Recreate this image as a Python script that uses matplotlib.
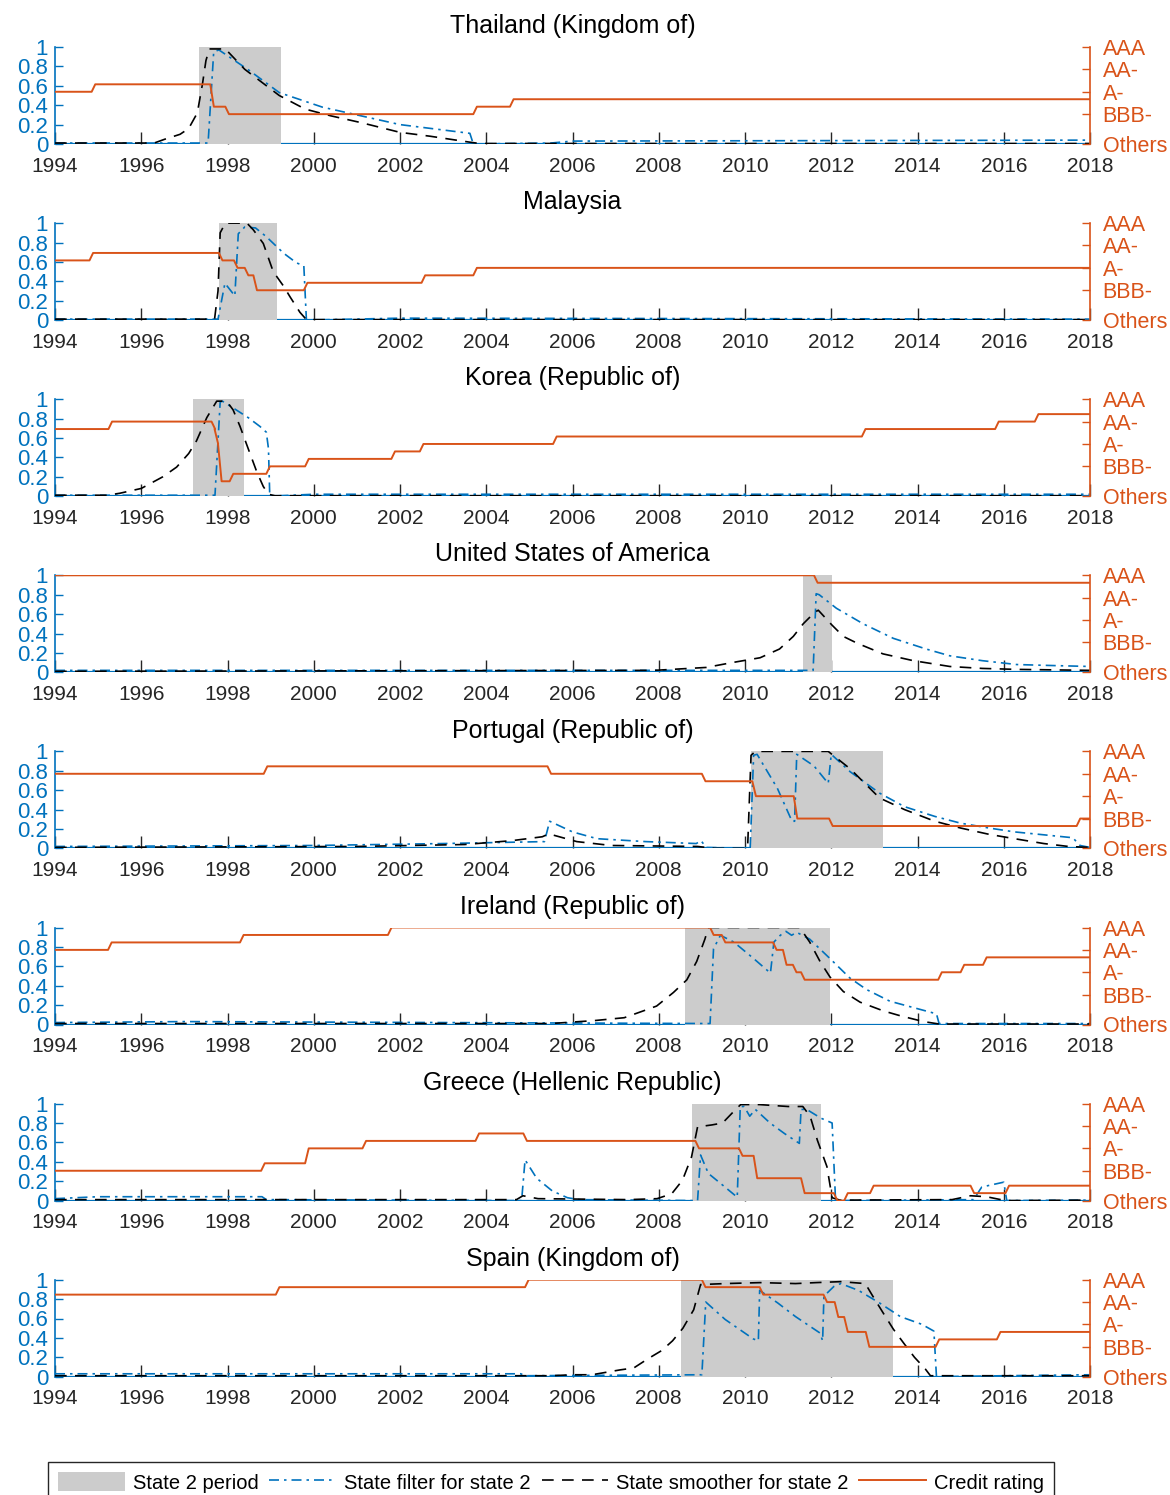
import matplotlib
matplotlib.use("Agg")
import matplotlib.pyplot as plt
from matplotlib.patches import Patch
from matplotlib.lines import Line2D

plt.rcParams["font.family"] = ["Liberation Sans", "DejaVu Sans"]

BLUE = "#0072BD"
ORANGE = "#D95319"
GRAY = "#CCCCCC"
TEXT = "#262626"

TITLES = [
    "Thailand (Kingdom of)",
    "Malaysia",
    "Korea (Republic of)",
    "United States of America",
    "Portugal (Republic of)",
    "Ireland (Republic of)",
    "Greece (Hellenic Republic)",
    "Spain (Kingdom of)",
]

YEARS = list(range(1994, 2019, 2))

# right axis: rating in notches, 13 = AAA ... 4 = BBB-, 0 = Others
RATING_TICKS = [0, 4, 7, 10, 13]
RATING_LABELS = ["Others", "BBB-", "A-", "AA-", "AAA"]

# state 2 periods (start, end)
SHADE = [
    (1997.35, 1999.25),
    (1997.80, 1999.15),
    (1997.19, 1998.38),
    (2011.35, 2012.02),
    (2010.14, 2013.19),
    (2008.61, 2011.96),
    (2008.76, 2011.76),
    (2008.52, 2013.44),
]

# rating changes (date, notch)
RATING_THA = [(1994.0, 7), (1994.85, 8), (1997.6, 5), (1997.95, 4), (2003.7, 5), (2004.55, 6)]
RATING_MYS = [(1994.0, 8), (1994.8, 9), (1997.8, 8), (1998.15, 7), (1998.4, 6), (1998.6, 4),
              (1999.77, 5), (2002.5, 6), (2003.7, 7)]
RATING_KOR = [(1994.0, 9), (1995.24, 10), (1997.63, 9), (1997.7, 7), (1997.78, 2), (1998.05, 3),
              (1998.9, 4), (1999.8, 5), (2001.8, 6), (2002.46, 7), (2005.55, 8), (2012.71, 9),
              (2015.8, 10), (2016.72, 11)]
RATING_USA = [(1994.0, 13), (2011.6, 12)]
RATING_PRT = [(1994.0, 10), (1998.84, 11), (2005.42, 10), (2009.0, 9), (2010.17, 7), (2011.13, 4),
              (2011.95, 3), (2017.69, 4)]
RATING_IRL = [(1994.0, 10), (1995.23, 11), (1998.29, 12), (2001.72, 13), (2009.19, 12), (2009.46, 11),
              (2010.65, 10), (2010.88, 8), (2011.11, 7), (2011.3, 6), (2014.48, 7), (2015.0, 8),
              (2015.52, 9)]
RATING_GRC = [(1994.0, 4), (1998.78, 5), (1999.8, 7), (2001.13, 8), (2003.75, 9), (2004.86, 8),
              (2008.85, 7), (2009.86, 6), (2010.2, 3), (2011.3, 1), (2012.06, 0), (2012.3, 1),
              (2012.9, 2), (2015.23, 1), (2016.04, 2)]
RATING_ESP = [(1994.0, 11), (1999.12, 12), (2004.9, 13), (2009.0, 12), (2010.34, 11), (2011.82, 10),
              (2012.08, 8), (2012.3, 6), (2012.8, 4), (2014.42, 5), (2015.84, 6)]

# state filter for state 2 (date, probability)
FILTER_THA = [(1994.0, 0.01), (1997.55, 0.01), (1997.68, 0.95), (1997.8, 0.97), (1998.5, 0.76),
              (1999.2, 0.53), (2000.2, 0.38), (2001.1, 0.29), (2002.0, 0.2), (2002.9, 0.15),
              (2003.62, 0.11), (2003.7, 0.0), (2005.5, 0.01), (2006.0, 0.03), (2018.0, 0.04)]
FILTER_MYS = [(1994.0, 0.01), (1997.78, 0.01), (1997.94, 0.38), (1998.17, 0.25), (1998.25, 0.89),
              (1998.4, 0.96), (1998.65, 0.95), (1998.9, 0.86), (1999.3, 0.69), (1999.6, 0.59),
              (1999.77, 0.56), (1999.83, 0.0), (2002.0, 0.02), (2018.0, 0.01)]
FILTER_KOR = [(1994.0, 0.01), (1997.71, 0.01), (1997.83, 0.97), (1997.88, 0.98), (1998.2, 0.89),
              (1998.48, 0.81), (1998.75, 0.72), (1998.9, 0.66), (1998.95, 0.49), (1998.98, 0.0),
              (2000.0, 0.02), (2018.0, 0.02)]
FILTER_USA = [(1994.0, 0.02), (2011.58, 0.02), (2011.65, 0.81), (2011.72, 0.8), (2012.12, 0.66),
              (2012.74, 0.5), (2013.44, 0.35), (2014.2, 0.24), (2014.75, 0.17), (2015.5, 0.12),
              (2016.3, 0.08), (2017.1, 0.07), (2018.0, 0.06)]
FILTER_PRT = [(1994.0, 0.02), (2000.0, 0.03), (2003.0, 0.05), (2005.35, 0.07), (2005.47, 0.28),
              (2006.0, 0.17), (2006.57, 0.1), (2007.7, 0.07), (2008.87, 0.05), (2008.98, 0.08),
              (2009.1, 0.01), (2010.12, 0.0), (2010.2, 0.96), (2010.28, 0.97), (2010.75, 0.62),
              (2011.09, 0.28), (2011.15, 0.28), (2011.2, 0.97), (2011.6, 0.85), (2011.93, 0.67),
              (2012.0, 0.97), (2012.44, 0.79), (2013.12, 0.57), (2013.7, 0.43), (2014.4, 0.33),
              (2015.0, 0.26), (2015.66, 0.21), (2016.25, 0.17), (2016.93, 0.14), (2017.6, 0.11),
              (2017.77, 0.03), (2018.0, 0.01)]
FILTER_IRL = [(1994.0, 0.02), (1997.0, 0.03), (2003.0, 0.02), (2009.19, 0.01), (2009.27, 0.78),
              (2009.35, 0.85), (2009.43, 0.92), (2009.74, 0.85), (2010.2, 0.68), (2010.59, 0.53),
              (2010.67, 0.85), (2010.82, 0.92), (2010.95, 0.96), (2011.08, 0.92), (2011.2, 0.95),
              (2011.5, 0.88), (2011.97, 0.68), (2012.43, 0.48), (2012.82, 0.36), (2013.36, 0.24),
              (2013.9, 0.175), (2014.44, 0.11), (2014.5, 0.01), (2018.0, 0.01)]
FILTER_GRC = [(1994.0, 0.02), (1995.0, 0.04), (1998.8, 0.04), (1998.9, 0.01), (2004.82, 0.0),
              (2004.9, 0.42), (2005.17, 0.23), (2005.53, 0.1), (2005.88, 0.03), (2006.15, 0.01),
              (2008.9, 0.0), (2008.97, 0.47), (2009.15, 0.28), (2009.48, 0.16), (2009.82, 0.035),
              (2009.89, 0.97), (2009.98, 0.97), (2010.11, 0.87), (2010.24, 0.94), (2010.58, 0.8),
              (2010.92, 0.69), (2011.26, 0.59), (2011.3, 0.94), (2011.43, 0.94), (2011.76, 0.85),
              (2012.02, 0.8), (2012.1, 0.0), (2015.3, 0.01), (2015.49, 0.14), (2016.0, 0.19),
              (2016.07, 0.0), (2018.0, 0.005)]
FILTER_ESP = [(1994.0, 0.03), (2004.8, 0.03), (2004.9, 0.01), (2009.0, 0.02), (2009.09, 0.77),
              (2009.54, 0.59), (2010.19, 0.39), (2010.31, 0.37), (2010.34, 0.89), (2010.76, 0.76),
              (2011.17, 0.62), (2011.74, 0.45), (2011.8, 0.37), (2011.83, 0.83), (2012.06, 0.93),
              (2012.22, 0.96), (2012.63, 0.89), (2013.12, 0.76), (2013.6, 0.62), (2014.1, 0.54),
              (2014.38, 0.47), (2014.44, 0.0), (2016.0, 0.01), (2018.0, 0.02)]

# state smoother for state 2 (date, probability)
SMOOTH_THA = [(1994.0, 0.01), (1996.3, 0.01), (1996.55, 0.05), (1996.9, 0.1), (1997.1, 0.16),
              (1997.3, 0.32), (1997.42, 0.62), (1997.5, 0.86), (1997.58, 0.98), (1997.95, 0.98),
              (1998.4, 0.77), (1999.2, 0.5), (1999.8, 0.36), (2000.4, 0.29), (2001.1, 0.22),
              (2002.0, 0.12), (2002.7, 0.08), (2003.6, 0.02), (2003.85, 0.005), (2018.0, 0.005)]
SMOOTH_MYS = [(1994.0, 0.01), (1997.7, 0.01), (1997.78, 0.3), (1997.83, 0.9), (1997.95, 1.0),
              (1998.45, 1.0), (1998.6, 0.93), (1998.83, 0.79), (1999.06, 0.5), (1999.3, 0.35),
              (1999.45, 0.24), (1999.68, 0.08), (1999.83, 0.005), (2018.0, 0.005)]
SMOOTH_KOR = [(1994.0, 0.01), (1995.2, 0.01), (1995.5, 0.03), (1996.0, 0.08), (1996.5, 0.2),
              (1996.82, 0.3), (1997.1, 0.44), (1997.28, 0.57), (1997.52, 0.81), (1997.75, 0.98),
              (1997.98, 0.98), (1998.13, 0.89), (1998.29, 0.72), (1998.48, 0.49), (1998.68, 0.25),
              (1998.83, 0.1), (1998.95, 0.02), (1999.1, 0.005), (2018.0, 0.005)]
SMOOTH_USA = [(1994.0, 0.01), (2007.9, 0.02), (2009.1, 0.05), (2009.7, 0.1), (2010.35, 0.15),
              (2010.8, 0.24), (2011.12, 0.37), (2011.35, 0.5), (2011.62, 0.62), (2011.7, 0.64),
              (2012.01, 0.49), (2012.28, 0.37), (2012.6, 0.3), (2013.2, 0.19), (2013.9, 0.12),
              (2014.75, 0.06), (2015.5, 0.04), (2016.3, 0.03), (2018.0, 0.02)]
SMOOTH_PRT = [(1994.0, 0.01), (2001.0, 0.02), (2003.5, 0.04), (2004.6, 0.08), (2005.3, 0.12),
              (2005.45, 0.15), (2006.1, 0.07), (2006.9, 0.03), (2008.9, 0.02), (2009.3, 0.0),
              (2010.06, 0.0), (2010.14, 0.96), (2010.24, 1.0), (2011.93, 1.0), (2012.44, 0.82),
              (2013.12, 0.52), (2013.7, 0.4), (2014.4, 0.28), (2015.0, 0.21), (2015.66, 0.145),
              (2016.25, 0.1), (2016.93, 0.05), (2017.5, 0.02), (2018.0, 0.01)]
SMOOTH_IRL = [(1994.0, 0.01), (2005.5, 0.01), (2006.5, 0.04), (2007.2, 0.07), (2007.64, 0.14),
              (2007.95, 0.19), (2008.34, 0.33), (2008.65, 0.46), (2008.88, 0.65), (2009.07, 0.88),
              (2009.15, 1.0), (2011.27, 1.0), (2011.5, 0.85), (2011.74, 0.65), (2011.97, 0.49),
              (2012.28, 0.34), (2012.67, 0.23), (2013.21, 0.14), (2013.6, 0.09), (2014.14, 0.03),
              (2014.5, 0.005), (2018.0, 0.005)]
SMOOTH_GRC = [(1994.0, 0.01), (2004.7, 0.01), (2004.85, 0.05), (2005.2, 0.02), (2007.3, 0.01),
              (2007.96, 0.02), (2008.3, 0.07), (2008.55, 0.21), (2008.76, 0.45), (2008.9, 0.76),
              (2009.23, 0.78), (2009.48, 0.8), (2009.74, 0.92), (2009.9, 0.99), (2010.33, 0.99),
              (2011.0, 0.97), (2011.34, 0.97), (2011.51, 0.87), (2011.68, 0.62), (2011.9, 0.35),
              (2012.02, 0.03), (2012.2, 0.005), (2014.8, 0.01), (2015.23, 0.05), (2015.6, 0.04),
              (2016.04, 0.0), (2018.0, 0.005)]
SMOOTH_ESP = [(1994.0, 0.01), (2005.5, 0.01), (2006.0, 0.02), (2006.45, 0.02), (2007.1, 0.07),
              (2007.42, 0.09), (2007.75, 0.185), (2008.07, 0.27), (2008.32, 0.37), (2008.56, 0.5),
              (2008.81, 0.69), (2008.97, 0.95), (2009.54, 0.96), (2010.36, 0.97), (2011.17, 0.96),
              (2011.65, 0.97), (2012.22, 0.98), (2012.79, 0.96), (2012.95, 0.84), (2013.2, 0.66),
              (2013.44, 0.49), (2013.69, 0.34), (2013.93, 0.2), (2014.18, 0.08), (2014.3, 0.01),
              (2018.0, 0.01)]

RATINGS = [RATING_THA, RATING_MYS, RATING_KOR, RATING_USA, RATING_PRT, RATING_IRL, RATING_GRC, RATING_ESP]
FILTERS = [FILTER_THA, FILTER_MYS, FILTER_KOR, FILTER_USA, FILTER_PRT, FILTER_IRL, FILTER_GRC, FILTER_ESP]
SMOOTHERS = [SMOOTH_THA, SMOOTH_MYS, SMOOTH_KOR, SMOOTH_USA, SMOOTH_PRT, SMOOTH_IRL, SMOOTH_GRC, SMOOTH_ESP]


def rating_path(changes, end=2018.0, ramp=1 / 12):
    # monthly series: each change ramps over one month
    xs, ys = [], []
    for i, (t, v) in enumerate(changes):
        if i > 0:
            xs.append(t)
            ys.append(changes[i - 1][1])
            xs.append(t + ramp)
        else:
            xs.append(t)
        ys.append(v)
    xs.append(end)
    ys.append(changes[-1][1])
    return xs, ys


def split(points):
    return [p[0] for p in points], [p[1] for p in points]


W, H = 1170, 1495
fig = plt.figure(figsize=(W / 100, H / 100), dpi=100)

for i, title in enumerate(TITLES):
    top = 47 + 176.1 * i
    ax = fig.add_axes([55 / W, 1 - (top + 97) / H, 1035 / W, 97 / H])
    ax.set_axisbelow(True)

    ax.axhline(0, color=BLUE, lw=1.6, zorder=1)
    ax.axvspan(SHADE[i][0], SHADE[i][1], color=GRAY, lw=0, zorder=2)

    fx, fy = split(FILTERS[i])
    ax.plot(fx, fy, color=BLUE, lw=1.2, ls=(0, (6, 3, 1.5, 3)), zorder=3)
    sx, sy = split(SMOOTHERS[i])
    ax.plot(sx, sy, color="black", lw=1.2, ls=(0, (7, 5)), zorder=4)

    ax.set_xlim(1994, 2018)
    ax.set_ylim(0, 1)
    ax.set_xticks(YEARS)
    ax.set_yticks([0, 0.2, 0.4, 0.6, 0.8, 1])
    ax.set_yticklabels(["0", "0.2", "0.4", "0.6", "0.8", "1"])
    ax.tick_params(axis="x", direction="in", length=9, width=1, color=TEXT,
                   labelcolor=TEXT, labelsize=15, pad=9)
    ax.tick_params(axis="y", direction="in", length=6, width=1, color=BLUE,
                   labelcolor=BLUE, labelsize=16, pad=5)
    for side in ["top", "bottom", "right"]:
        ax.spines[side].set_visible(False)
    ax.spines["left"].set_color(BLUE)
    ax.spines["left"].set_linewidth(1.2)
    ax.set_title(title, fontsize=18, pad=10, color="black")

    ax2 = ax.twinx()
    rx, ry = rating_path(RATINGS[i])
    ax2.plot(rx, ry, color=ORANGE, lw=1.4, zorder=5)
    ax2.set_ylim(0, 13)
    ax2.set_yticks(RATING_TICKS)
    ax2.set_yticklabels(RATING_LABELS)
    ax2.tick_params(axis="y", direction="in", length=6, width=1, color=ORANGE,
                    labelcolor=ORANGE, labelsize=15.5, pad=9)
    for side in ["top", "bottom", "left"]:
        ax2.spines[side].set_visible(False)
    ax2.spines["right"].set_color(ORANGE)
    ax2.spines["right"].set_linewidth(1.2)

handles = [
    Patch(facecolor=GRAY, edgecolor="none"),
    Line2D([], [], color=BLUE, lw=1.2, ls=(0, (6, 3, 1.5, 3))),
    Line2D([], [], color="black", lw=1.2, ls=(0, (7, 5))),
    Line2D([], [], color=ORANGE, lw=1.4),
]
labels = ["State 2 period", "State filter for state 2", "State smoother for state 2", "Credit rating"]
leg = fig.legend(handles, labels, loc="upper left", bbox_to_anchor=(48 / W, 1 - 1462 / H),
                 borderaxespad=0, ncol=4, fontsize=14.5, handlelength=3.3, handleheight=1.1,
                 handletextpad=0.4, columnspacing=0.55, borderpad=0.5, frameon=True,
                 fancybox=False, edgecolor=TEXT, framealpha=1)
leg.get_frame().set_linewidth(1.0)

fig.savefig("out.png", dpi=100)
